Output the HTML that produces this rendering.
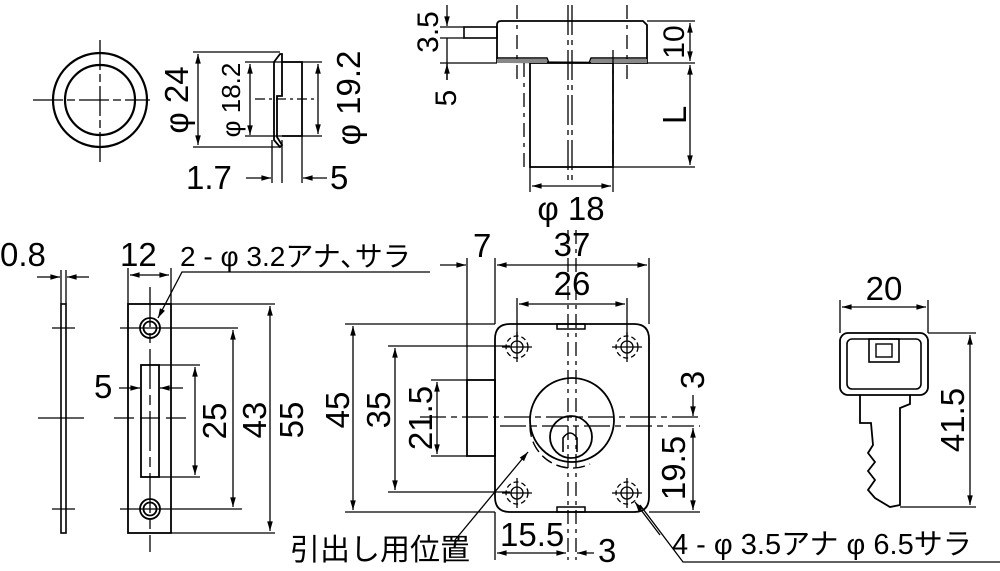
<!DOCTYPE html>
<html><head><meta charset="utf-8"><style>
html,body{margin:0;padding:0;background:#fff}
svg{display:block}
text{font-family:"Liberation Sans","Noto Sans CJK JP",sans-serif;fill:#000}
</style></head><body>
<svg width="1000" height="571" viewBox="0 0 1000 571" xmlns="http://www.w3.org/2000/svg">
<defs>
<marker id="a" viewBox="0 0 12 10" refX="12" refY="5" markerWidth="12" markerHeight="8" orient="auto-start-reverse" markerUnits="userSpaceOnUse"><path d="M0,1.5 L12,5 L0,8.5 z" fill="#000"/></marker>
</defs>
<g fill="none" stroke="#000" stroke-width="1.3">
<circle cx="100" cy="100" r="47" stroke-width="2.2"/>
<circle cx="100" cy="100" r="35" stroke-width="2.2"/>
<line x1="33" y1="100" x2="150" y2="100" stroke-dasharray="30,4,8,4"/>
<line x1="100" y1="40" x2="100" y2="165" stroke-dasharray="30,4,8,4"/>
<line x1="193" y1="52" x2="280" y2="52"/>
<line x1="193" y1="147" x2="280" y2="147"/>
<line x1="198" y1="54" x2="198" y2="145" marker-start="url(#a)" marker-end="url(#a)"/>
<path d="M274,62 L280,54 L282,54 L282,96 L277,96 L277,137 L282,145 L280,147 L274,140 Z" stroke-width="1.8"/>
<path d="M282,62 L302,62 L302,136 L282,136" stroke-width="1.8"/>
<line x1="245" y1="62" x2="322" y2="62"/>
<line x1="245" y1="136" x2="322" y2="136"/>
<line x1="250" y1="64" x2="250" y2="135" marker-start="url(#a)" marker-end="url(#a)"/>
<line x1="318" y1="64" x2="318" y2="134" marker-start="url(#a)" marker-end="url(#a)"/>
<line x1="255" y1="99" x2="315" y2="99" stroke-dasharray="10,4,3,4"/>
<line x1="272" y1="140" x2="272" y2="183"/>
<line x1="282" y1="140" x2="282" y2="183"/>
<line x1="302" y1="136" x2="302" y2="183"/>
<line x1="246" y1="178" x2="271" y2="178" marker-end="url(#a)"/>
<line x1="327" y1="178" x2="303" y2="178" marker-end="url(#a)"/>
<path d="M497,62 L497,25 Q497,21 501,21 L643,21 L647,25 L647,63 Z" stroke-width="1.8"/>
<rect x="464" y="27" width="33" height="11" stroke-width="1.6"/>
<rect x="530" y="63" width="83" height="104" stroke-width="1.8"/>
<path d="M497,58 L547,58 L549,63 M647,58 L591,58 L589,63" stroke-width="1.4"/>
<rect x="497" y="59" width="50" height="4" fill="#888" stroke="none"/>
<rect x="591" y="59" width="56" height="4" fill="#888" stroke="none"/>
<line x1="517" y1="5" x2="517" y2="80" stroke-dasharray="14,6,4,6"/>
<line x1="627" y1="5" x2="627" y2="80" stroke-dasharray="14,6,4,6"/>
<line x1="568" y1="5" x2="568" y2="180" stroke-dasharray="30,5,5,5"/>
<line x1="572" y1="5" x2="572" y2="180" stroke-dasharray="30,5,5,5"/>
<line x1="524" y1="63" x2="524" y2="167" stroke-dasharray="14,6,4,6"/>
<line x1="613" y1="50" x2="613" y2="167" stroke-dasharray="14,6,4,6"/>
<line x1="647" y1="21" x2="695" y2="21"/>
<line x1="647" y1="63" x2="695" y2="63"/>
<line x1="613" y1="167" x2="695" y2="167"/>
<line x1="690" y1="23" x2="690" y2="61" marker-start="url(#a)" marker-end="url(#a)"/>
<line x1="690" y1="65" x2="690" y2="165" marker-start="url(#a)" marker-end="url(#a)"/>
<line x1="440" y1="27" x2="464" y2="27"/>
<line x1="440" y1="38" x2="464" y2="38"/>
<line x1="440" y1="63" x2="497" y2="63"/>
<line x1="447" y1="5" x2="447" y2="26" marker-end="url(#a)"/>
<line x1="447" y1="38" x2="447" y2="80"/>
<line x1="447" y1="80" x2="447" y2="64" marker-end="url(#a)"/>
<line x1="530" y1="167" x2="530" y2="192"/>
<line x1="613" y1="167" x2="613" y2="192"/>
<line x1="532" y1="186" x2="611" y2="186" marker-start="url(#a)" marker-end="url(#a)"/>
<rect x="61" y="304" width="5" height="229" stroke-width="1.6"/>
<line x1="61" y1="270" x2="61" y2="304"/><line x1="66" y1="270" x2="66" y2="304"/>
<line x1="37" y1="277" x2="60" y2="277" marker-end="url(#a)"/>
<line x1="89" y1="277" x2="67" y2="277" marker-end="url(#a)"/>
<line x1="52" y1="328" x2="75" y2="328"/><line x1="38" y1="418" x2="84" y2="418"/><line x1="52" y1="509" x2="75" y2="509"/>
<rect x="128" y="304" width="43" height="229" stroke-width="1.8"/>
<circle cx="150" cy="328" r="10" stroke-width="1.8"/><circle cx="150" cy="328" r="6.5" stroke-width="1.8"/>
<circle cx="150" cy="509" r="10" stroke-width="1.8"/><circle cx="150" cy="509" r="6.5" stroke-width="1.8"/>
<rect x="141" y="365" width="18" height="112" stroke-width="1.8"/>
<line x1="150" y1="287" x2="150" y2="552" stroke-dasharray="40,6,10,6"/>
<line x1="120" y1="328" x2="238" y2="328"/><line x1="120" y1="509" x2="242" y2="509"/>
<line x1="114" y1="418" x2="188" y2="418" stroke-dasharray="20,6,20,6"/>
<line x1="159" y1="365" x2="200" y2="365"/><line x1="159" y1="477" x2="200" y2="477"/>
<line x1="171" y1="304" x2="275" y2="304"/><line x1="171" y1="533" x2="275" y2="533"/>
<line x1="195" y1="367" x2="195" y2="475" marker-start="url(#a)" marker-end="url(#a)"/>
<line x1="233" y1="330" x2="233" y2="507" marker-start="url(#a)" marker-end="url(#a)"/>
<line x1="270" y1="306" x2="270" y2="531" marker-start="url(#a)" marker-end="url(#a)"/>
<line x1="128" y1="268" x2="128" y2="304"/><line x1="171" y1="268" x2="171" y2="304"/>
<line x1="130" y1="275" x2="169" y2="275" marker-start="url(#a)" marker-end="url(#a)"/>
<line x1="119" y1="388" x2="140" y2="388" marker-end="url(#a)"/>
<line x1="183" y1="388" x2="160" y2="388" marker-end="url(#a)"/>
<path d="M430,272 L182,272 L158,318" marker-end="url(#a)"/>
<path d="M510,324 L634,324 Q649,324 649,339 L649,497 Q649,512 634,512 L510,512 Q495,512 495,497 L495,339 Q495,324 510,324 Z" stroke-width="1.8"/>
<rect x="467" y="380" width="28" height="76" stroke-width="1.8"/>
<rect x="557" y="324" width="28" height="5" stroke-width="1.5"/>
<rect x="557" y="507" width="28" height="5" stroke-width="1.5"/>
<g stroke-width="1.3">
<circle cx="517" cy="347" r="6"/><circle cx="517" cy="347" r="11" stroke-dasharray="5,3"/>
<circle cx="627" cy="347" r="6"/><circle cx="627" cy="347" r="11" stroke-dasharray="5,3"/>
<circle cx="517" cy="493" r="6"/><circle cx="517" cy="493" r="11" stroke-dasharray="5,3"/>
<circle cx="627" cy="493" r="6"/><circle cx="627" cy="493" r="11" stroke-dasharray="5,3"/>
<path d="M502,347 h30 M517,332 v30 M612,347 h30 M627,332 v30 M502,493 h30 M517,478 v30 M612,493 h30 M627,478 v30"/>
</g>
<circle cx="572" cy="420" r="42" stroke-width="1.8"/>
<path d="M530,425 A42,42 0 0 0 590,464" stroke-dasharray="12,5" stroke-width="1.4"/>
<circle cx="571" cy="437" r="21" stroke-width="1.8"/>
<path d="M563,452 L563,438 Q570,428 577,438 L577,452" stroke-width="1.6"/>
<line x1="568" y1="230" x2="568" y2="560" stroke-dasharray="14,5,4,5"/>
<line x1="576" y1="230" x2="576" y2="560" stroke-dasharray="14,5,4,5"/>
<line x1="420" y1="417" x2="700" y2="417" stroke-dasharray="26,5,6,5"/>
<line x1="500" y1="426" x2="700" y2="426" stroke-dasharray="26,5,6,5"/>
<line x1="467" y1="258" x2="467" y2="380"/><line x1="495" y1="258" x2="495" y2="324"/><line x1="649" y1="258" x2="649" y2="324"/>
<line x1="440" y1="265" x2="466" y2="265" marker-end="url(#a)"/>
<line x1="497" y1="265" x2="647" y2="265" marker-start="url(#a)" marker-end="url(#a)"/>
<line x1="517" y1="298" x2="517" y2="340"/><line x1="627" y1="298" x2="627" y2="340"/>
<line x1="519" y1="304" x2="625" y2="304" marker-start="url(#a)" marker-end="url(#a)"/>
<line x1="345" y1="324" x2="495" y2="324"/><line x1="345" y1="512" x2="495" y2="512"/>
<line x1="388" y1="346" x2="510" y2="346"/><line x1="388" y1="492" x2="510" y2="492"/>
<line x1="431" y1="380" x2="467" y2="380"/><line x1="431" y1="456" x2="467" y2="456"/>
<line x1="353" y1="326" x2="353" y2="510" marker-start="url(#a)" marker-end="url(#a)"/>
<line x1="395" y1="348" x2="395" y2="490" marker-start="url(#a)" marker-end="url(#a)"/>
<line x1="437" y1="382" x2="437" y2="454" marker-start="url(#a)" marker-end="url(#a)"/>
<line x1="649" y1="512" x2="700" y2="512"/>
<line x1="693" y1="395" x2="693" y2="416" marker-end="url(#a)"/>
<line x1="693" y1="428" x2="693" y2="510" marker-start="url(#a)" marker-end="url(#a)"/>
<line x1="495" y1="512" x2="495" y2="560"/>
<line x1="497" y1="553" x2="566" y2="553" marker-start="url(#a)" marker-end="url(#a)"/>
<line x1="594" y1="553" x2="577" y2="553" marker-end="url(#a)"/>
<line x1="455" y1="540" x2="528" y2="452" marker-end="url(#a)"/>
<path d="M1000,562 L683,562 L640,505" />
<line x1="660" y1="535" x2="635" y2="502" marker-end="url(#a)"/>
<rect x="840" y="333" width="88" height="62" rx="8" stroke-width="1.8"/>
<rect x="847" y="339" width="74" height="50" rx="5" stroke-width="1.6"/>
<rect x="869" y="339" width="30" height="23" stroke-width="1.6"/>
<rect x="876" y="344" width="16" height="13" stroke-width="1.4"/>
<path d="M860,395 L860,423 L871,423 L873,445 L868,453 L875,462 L868,471 L875,480 L868,490 L875,498 L890,507 L900,505 L900,408 L910,404 L910,395" stroke-width="1.8"/>
<line x1="840" y1="300" x2="840" y2="333"/><line x1="928" y1="300" x2="928" y2="333"/>
<line x1="842" y1="307" x2="926" y2="307" marker-start="url(#a)" marker-end="url(#a)"/>
<line x1="928" y1="333" x2="976" y2="333"/><line x1="900" y1="507" x2="976" y2="507"/>
<line x1="970" y1="335" x2="970" y2="505" marker-start="url(#a)" marker-end="url(#a)"/>
</g>
<g font-size="33">
<text transform="translate(188,100) rotate(-90)" text-anchor="middle">φ 24</text>
<text transform="translate(240,100) rotate(-90)" text-anchor="middle" font-size="26">φ 18.2</text>
<text transform="translate(360,98) rotate(-90)" text-anchor="middle">φ 19.2</text>
<text x="186" y="189">1.7</text>
<text x="330" y="189">5</text>
<text transform="translate(438,32) rotate(-90)" text-anchor="middle" font-size="30">3.5</text>
<text transform="translate(456,98) rotate(-90)" text-anchor="middle" font-size="30">5</text>
<text transform="translate(684,42) rotate(-90)" text-anchor="middle" font-size="30">10</text>
<text transform="translate(686,115) rotate(-90)" text-anchor="middle">L</text>
<text x="571" y="220" text-anchor="middle">φ 18</text>
<text x="0" y="266">0.8</text>
<text x="120" y="266">12</text>
<text x="180" y="266" font-size="28">2 - φ 3.2アナ､サラ</text>
<text x="94" y="398">5</text>
<text transform="translate(226,421) rotate(-90)" text-anchor="middle">25</text>
<text transform="translate(266,420) rotate(-90)" text-anchor="middle">43</text>
<text transform="translate(303,420) rotate(-90)" text-anchor="middle">55</text>
<text x="473" y="257">7</text>
<text x="572" y="256" text-anchor="middle">37</text>
<text x="572" y="295" text-anchor="middle">26</text>
<text transform="translate(349,410) rotate(-90)" text-anchor="middle">45</text>
<text transform="translate(390,410) rotate(-90)" text-anchor="middle">35</text>
<text transform="translate(432,418) rotate(-90)" text-anchor="middle">21.5</text>
<text transform="translate(704,380) rotate(-90)" text-anchor="middle">3</text>
<text transform="translate(685,468) rotate(-90)" text-anchor="middle">19.5</text>
<text x="500" y="546">15.5</text>
<text x="598" y="562">3</text>
<text x="290" y="560" font-size="30">引出し用位置</text>
<text x="672" y="554" font-size="29">4 - φ 3.5アナ φ 6.5サラ</text>
<text x="884" y="300" text-anchor="middle">20</text>
<text transform="translate(964,420) rotate(-90)" text-anchor="middle">41.5</text>
</g>
</svg>
</body></html>
